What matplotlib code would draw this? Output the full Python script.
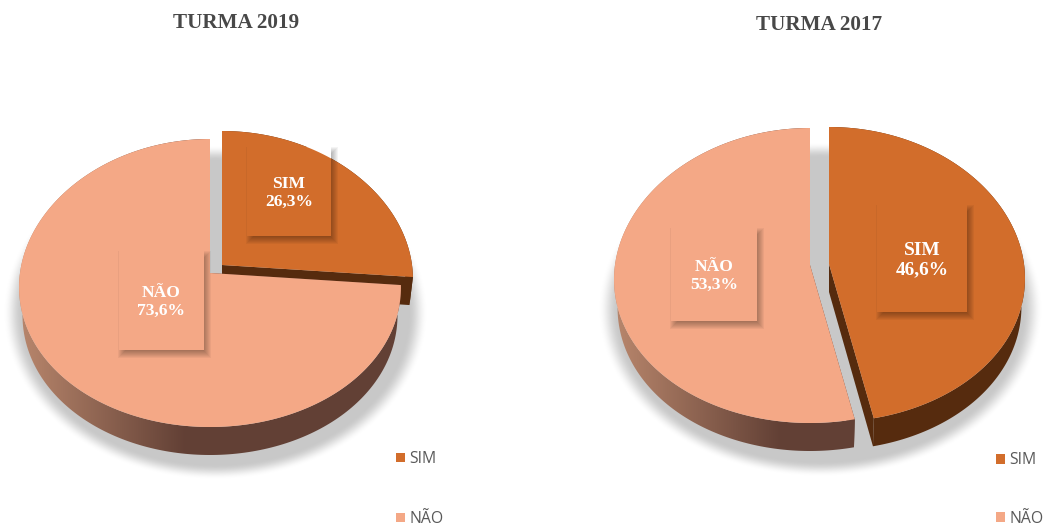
#!/usr/bin/env python3
# -*- coding: utf-8 -*-
"""Two exploded pseudo-3D pies: TURMA 2019 and TURMA 2017."""
import numpy as np
import matplotlib; matplotlib.use("Agg")
import matplotlib.pyplot as plt
from matplotlib.patches import Patch, Polygon, Rectangle

W, H = 1046, 525
SERIF = "Liberation Serif"

categories = ["SIM", "NÃO"]
values_2019 = [26.3, 73.6]
values_2017 = [46.6, 53.3]
labels_2019 = ["26,3%", "73,6%"]
labels_2017 = ["46,6%", "53,3%"]

TOP = {"SIM": "#d26d2b", "NÃO": "#f4a886"}
SIDE_DARK = {"SIM": np.array([0x56, 0x2b, 0x0e]) / 255, "NÃO": np.array([0x62, 0x40, 0x35]) / 255}
SIDE_LIGHT = {"SIM": np.array([0x56, 0x2b, 0x0e]) / 255, "NÃO": np.array([0xb8, 0x86, 0x6c]) / 255}


def project(theta, g, depth=0.0):
    # unit-circle angle -> pixels, with the front of the disc wider and deeper than the back
    u = np.cos(np.radians(theta))
    v = np.sin(np.radians(theta))
    scale = (1 - 0.018 * (depth / 28.0)) * (1 - 0.1 * v)
    x = g["cx"] + g["rx"] * scale * u
    y = g["cy"] - (g["a"] * v + g["b"] * v ** 2) + depth
    return x, y


def draw_shadow(ax, g):
    xx, yy = np.meshgrid(np.arange(W), np.arange(H))
    r = np.hypot((xx - g["sx"]) / g["srx"], (yy - g["sy"]) / g["sry"])
    t = np.clip((1.0 - r) / 0.09, 0, 1)
    img = np.ones((H, W, 4)) * 200 / 255
    img[..., 3] = t * t * (3 - 2 * t)
    ax.imshow(img, extent=(0, W, H, 0), aspect="auto", zorder=1, interpolation="bilinear")


def draw_box(ax, box, color, top_patch):
    x0, y0, x1, y1 = box
    for s in range(-3, 5):  # soft drop shadow
        ax.add_patch(Rectangle((x0 + 3 - s, y0 + 4 - s), x1 - x0 + 2 * s, y1 - y0 + 2 * s, fc="black",
                               ec="none", alpha=0.042, zorder=6))
    # the part of the box that falls outside the wedge stays white
    ax.add_patch(Rectangle((x0, y0), x1 - x0, y1 - y0, fc="white", ec="none", zorder=6.5))
    r = Rectangle((x0, y0), x1 - x0, y1 - y0, fc=color, ec="none", zorder=7)
    ax.add_patch(r)
    r.set_clip_path(top_patch)


def draw_pie(ax, vals, labels, g):
    draw_shadow(ax, g)
    # pie gives the wedge angles; it is then hidden and re-projected below
    wedges, _ = ax.pie(vals, startangle=90, counterclock=False)
    geo = [(w.theta1, w.theta2) for w in wedges]
    for w in wedges:
        w.remove()
    ax.set_xlim(0, W); ax.set_ylim(H, 0); ax.set_aspect("auto"); ax.axis("off")

    for i, (cat, (t1, t2)) in enumerate(zip(categories, geo)):
        off = g["off"] if cat == "SIM" else (0, 0)
        d = g["depth"]
        th = np.linspace(t1, t2, 240)
        tx, ty = project(th, g)
        bx, by = project(th, g, depth=d)
        tx, bx = tx + off[0], bx + off[0]
        ty, by = ty + off[1], by + off[1]
        z = 2 + 2 * i
        vx, vy = g["cx"] + off[0], g["cy"] + off[1]

        # cut faces
        for k in (0, -1):
            ax.add_patch(Polygon([(vx, vy), (vx, vy + d), (bx[k], by[k]), (tx[k], ty[k])], closed=True,
                                 fc=SIDE_DARK[cat], ec="none", zorder=z))
        # outer wall, colour follows x
        f = np.clip((np.arange(W) - g["cx"] + g["rx"]) / g["fade"], 0, 1)[None, :, None]
        grad = SIDE_LIGHT[cat] * (1 - f) + SIDE_DARK[cat] * f
        wall = Polygon(np.r_[np.c_[tx, ty], np.c_[bx, by][::-1]], closed=True, fc="none", ec="none", zorder=z)
        ax.add_patch(wall)
        im = ax.imshow(grad, extent=(0, W, H, 0), aspect="auto", zorder=z)
        im.set_clip_path(wall)
        # top face
        top = Polygon(np.r_[[[vx, vy]], np.c_[tx, ty]], closed=True, fc=TOP[cat], ec="none", zorder=z + 1)
        ax.add_patch(top)

        box = g["boxes"][cat]
        draw_box(ax, box, TOP[cat], top)
        ax.text((box[0] + box[2]) / 2, (box[1] + box[3]) / 2 + 1.5, "%s\n%s" % (cat, labels[i]), color="white",
                family=SERIF, fontweight="bold", fontsize=g["fs"][cat], ha="center", va="center",
                linespacing=1.2, zorder=8)

    ax.text(g["title_x"], g["title_y"], g["title"], family=SERIF, fontweight="bold", fontsize=15.2,
            color="#484848", ha="center", va="center", zorder=8)
    handles = [Patch(fc=TOP[c], ec="none", label=c) for c in categories]
    ax.legend(handles=handles, loc="center left", bbox_to_anchor=g["leg"], bbox_transform=ax.transData,
              frameon=False, prop={"family": "Open Sans", "size": 11.3}, labelcolor="#595959",
              handlelength=0.57, handleheight=0.57, handletextpad=0.3, labelspacing=g["gap"],
              borderpad=0, borderaxespad=0)


geo_2019 = dict(title="TURMA 2019", title_x=236, title_y=23, cx=210, cy=273, rx=190, a=144, b=-10,
                depth=28, off=(12, -8), fade=165, sx=215, sy=312, srx=212, sry=167, leg=(396, 489), gap=2.8,
                boxes={"SIM": (247, 147, 331, 236), "NÃO": (119, 251, 204, 350)},
                fs={"SIM": 12.6, "NÃO": 12.6})
geo_2017 = dict(title="TURMA 2017", title_x=819, title_y=25, cx=810, cy=265, rx=195, a=147.5, b=-10.5,
                depth=28, off=(19, -1), fade=165, sx=820, sy=309, srx=222, sry=167, leg=(996, 489.5), gap=2.68,
                boxes={"SIM": (877, 205, 967, 312), "NÃO": (671, 228, 757, 321)},
                fs={"SIM": 13.9, "NÃO": 12.6})

fig = plt.figure(figsize=(W / 100, H / 100), dpi=100)
for geom, vals, labs in [(geo_2019, values_2019, labels_2019), (geo_2017, values_2017, labels_2017)]:
    ax = fig.add_axes([0, 0, 1, 1], label=geom["title"])
    ax.patch.set_alpha(0)
    draw_pie(ax, vals, labs, geom)
fig.savefig("out.png", dpi=100)
plt.close(fig)
